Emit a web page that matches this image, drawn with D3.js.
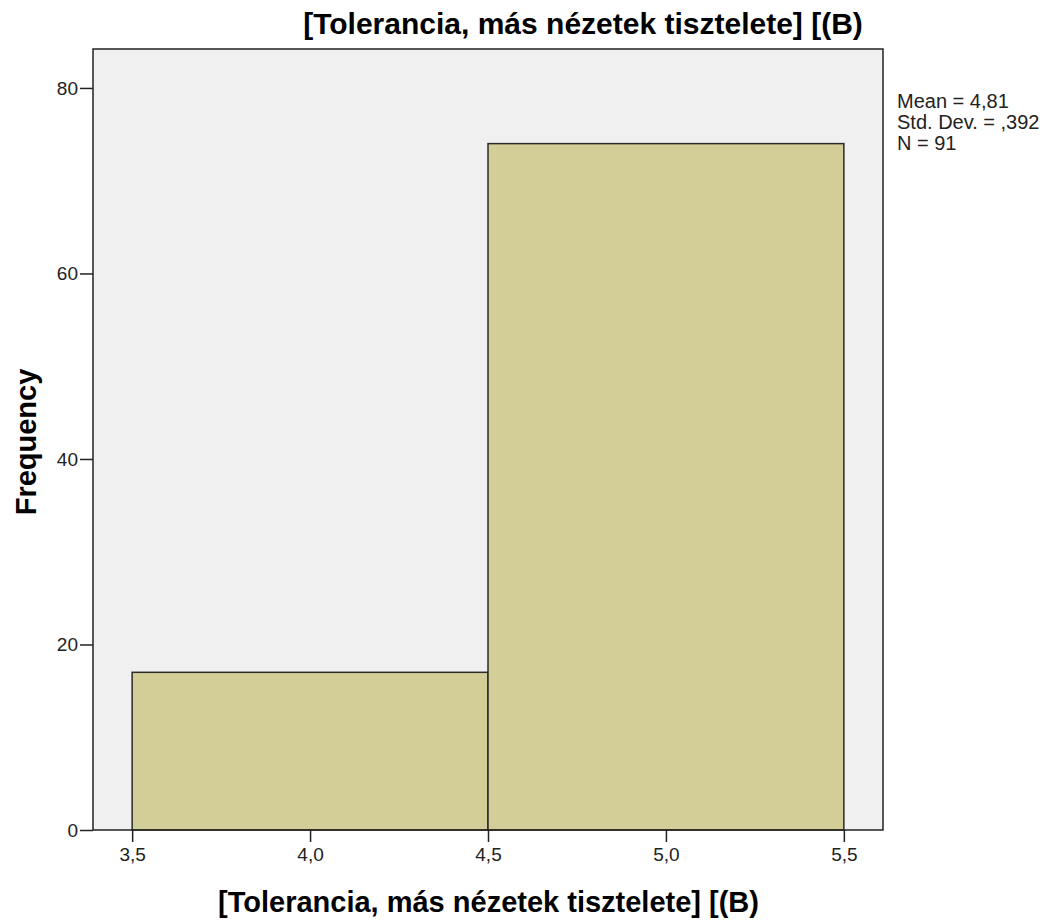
<!DOCTYPE html>
<html>
<head>
<meta charset="utf-8">
<script src="https://cdn.jsdelivr.net/npm/d3@7"></script>
<style>
  body { margin: 0; background: #fff; }
  text { font-family: "Liberation Sans", Arial, sans-serif; }
</style>
</head>
<body>
<svg id="chart" width="1050" height="923"></svg>
<script>
// histogram bins
const binStarts = [3.5, 4.5]
const binEnds = [4.5, 5.5]
const counts = [17, 74]
const xTicks = [3.5, 4.0, 4.5, 5.0, 5.5]
const yTicks = [0, 20, 40, 60, 80]
const statLines = ['Mean = 4,81', 'Std. Dev. = ,392', 'N = 91']
const titleText = '[Tolerancia, más nézetek tisztelete] [(B)'

const svg = d3.select('#chart')
const plotLeft = 93, plotRight = 883, plotTop = 49, plotBottom = 830

const x = d3.scaleLinear().domain([3.39, 5.61]).range([plotLeft, plotRight])
const y = d3.scaleLinear().domain([0, 84.2]).range([plotBottom, plotTop])

const fmt = d => d3.format('.1f')(d).replace('.', ',')

svg.append('rect')
  .attr('x', plotLeft).attr('y', plotTop)
  .attr('width', plotRight - plotLeft).attr('height', plotBottom - plotTop)
  .attr('fill', '#f0f0f0')

const bins = counts.map((c, i) => ({ x0: binStarts[i], x1: binEnds[i], n: c }))

svg.selectAll('.bar')
  .data(bins)
  .join('rect')
  .attr('class', 'bar')
  .attr('x', d => x(d.x0))
  .attr('y', d => y(d.n))
  .attr('width', d => x(d.x1) - x(d.x0))
  .attr('height', d => y(0) - y(d.n))
  .attr('fill', '#d3ce98')
  .attr('stroke', '#2a2a2a')
  .attr('stroke-width', 1.5)

// frame
svg.append('rect')
  .attr('x', plotLeft).attr('y', plotTop)
  .attr('width', plotRight - plotLeft).attr('height', plotBottom - plotTop)
  .attr('fill', 'none')
  .attr('stroke', '#222')
  .attr('stroke-width', 1.5)

const yAxis = svg.append('g')
  .attr('transform', `translate(${plotLeft},0)`)
  .call(d3.axisLeft(y).tickValues(yTicks).tickSize(13).tickPadding(2).tickFormat(d3.format('d')))
yAxis.select('.domain').remove()

const xAxis = svg.append('g')
  .attr('transform', `translate(0,${plotBottom})`)
  .call(d3.axisBottom(x).tickValues(xTicks).tickSize(12).tickPadding(6).tickFormat(fmt))
xAxis.select('.domain').remove()

svg.selectAll('.tick line').attr('stroke', '#222').attr('stroke-width', 1.5)
svg.selectAll('.tick text')
  .attr('font-size', 19)
  .attr('fill', '#222')
  .style('font-family', '"Liberation Sans", Arial, sans-serif')

svg.append('text')
  .attr('x', 583).attr('y', 34)
  .attr('text-anchor', 'middle')
  .attr('font-size', 30).attr('font-weight', 'bold')
  .text(titleText)

svg.append('text')
  .attr('x', 488.5).attr('y', 912)
  .attr('text-anchor', 'middle')
  .attr('font-size', 29).attr('font-weight', 'bold')
  .text(titleText)

svg.append('text')
  .attr('transform', `translate(36,442) rotate(-90)`)
  .attr('text-anchor', 'middle')
  .attr('font-size', 29).attr('font-weight', 'bold')
  .text('Frequency')

svg.append('g')
  .selectAll('text')
  .data(statLines)
  .join('text')
  .attr('x', 897)
  .attr('y', (d, i) => 108 + i * 21)
  .attr('font-size', 20)
  .attr('fill', '#222')
  .text(d => d)
</script>
</body>
</html>
